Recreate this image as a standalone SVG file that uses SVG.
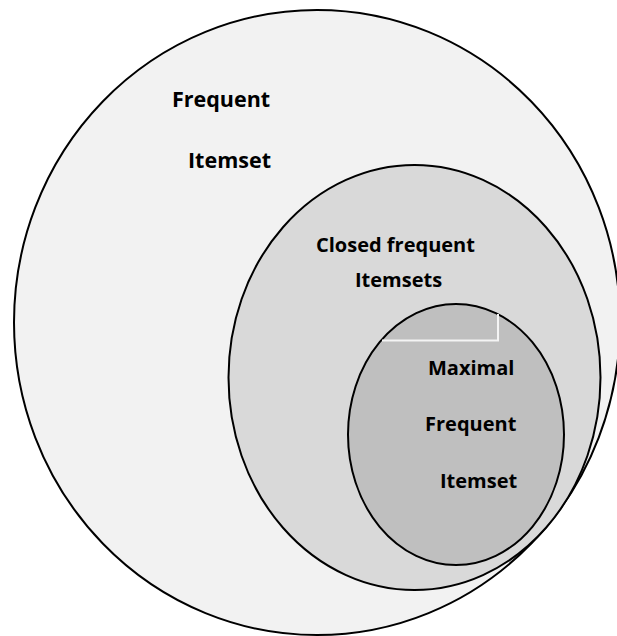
<svg xmlns="http://www.w3.org/2000/svg" width="617" height="636" viewBox="0 0 617 636">
  <style>
    .set { stroke: #000; stroke-width: 2; }
    .outer { fill: #f2f2f2; }
    .middle { fill: #d9d9d9; }
    .inner { fill: #bfbfbf; }
    .label { font-family: "Open Sans", Lato, "Liberation Sans", sans-serif; font-weight: bold; font-size: 20px; fill: #000; }
    .big { font-size: 21.5px; }
    .mark { fill: none; stroke: #f4f4f4; stroke-width: 2; }
  </style>
  <rect width="617" height="636" fill="#fff"/>
  <g id="frequent-itemsets">
    <ellipse class="set outer" cx="317" cy="322.5" rx="303" ry="312.5"/>
    <text class="label big" x="172" y="107">Frequent</text>
    <text class="label big" x="188" y="168">Itemset</text>
  </g>
  <g id="closed-frequent-itemsets">
    <ellipse class="set middle" cx="414.5" cy="377.5" rx="186" ry="212.5"/>
    <text class="label" x="316" y="252">Closed frequent</text>
    <text class="label" x="355" y="287">Itemsets</text>
  </g>
  <g id="maximal-frequent-itemset">
    <ellipse class="set inner" cx="456" cy="434.5" rx="108" ry="130.5"/>
    <path class="mark" d="M382 340.5 H498 V314"/>
    <text class="label" x="428" y="375">Maximal</text>
    <text class="label" x="425" y="431">Frequent</text>
    <text class="label" x="440" y="488">Itemset</text>
  </g>
</svg>
